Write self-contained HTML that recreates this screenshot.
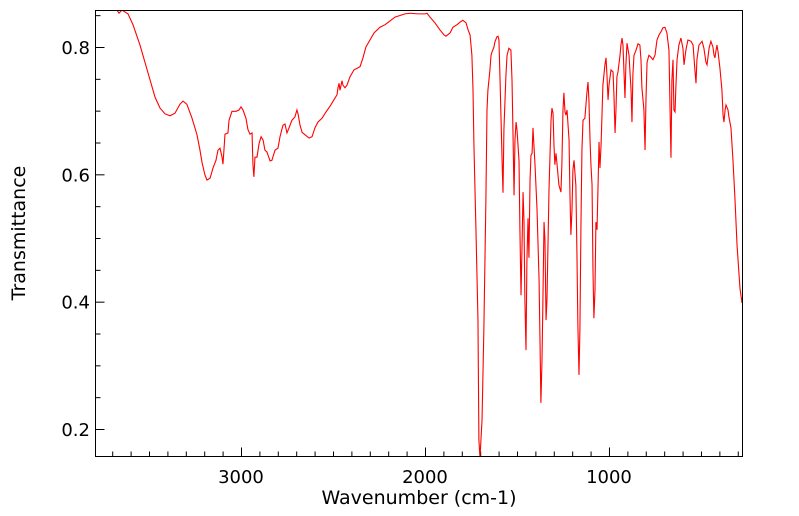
<!DOCTYPE html>
<html><head><meta charset="utf-8"><style>
body{margin:0;background:#fff}
svg{display:block;font-family:"DejaVu Sans","Liberation Sans",sans-serif}
</style></head><body>
<svg id="chart" width="799" height="516">
<rect x="0" y="0" width="799" height="516" fill="#fff"/>
<defs><clipPath id="pc"><rect x="95" y="10" width="647" height="446"/></clipPath></defs>
<g id="ticks"></g>
<path id="line" fill="none" stroke="#ff0000" stroke-width="1.1" clip-path="url(#pc)"/>
<rect x="95.5" y="10.5" width="647" height="446" fill="none" stroke="#000" stroke-width="1"/>
<text x="419" y="504" text-anchor="middle" font-size="19">Wavenumber (cm-1)</text>
<text transform="translate(25,233) rotate(-90)" text-anchor="middle" font-size="19">Transmittance</text>
</svg>
<script>
const wavenumbers=[3793,3674,3663,3647,3614,3587,3549,3522,3494,3467,3440,3413,3386,3359,3332,3315,3294,3266,3239,3223,3212,3196,3185,3168,3152,3136,3125,3114,3103,3098,3092,3087,3071,3065,3049,3027,3011,3000,2989,2973,2962,2951,2940,2935,2930,2924,2913,2902,2891,2880,2870,2859,2842,2832,2815,2799,2788,2772,2761,2750,2739,2723,2707,2696,2690,2679,2668,2652,2630,2614,2598,2582,2560,2538,2516,2495,2478,2473,2467,2462,2451,2446,2435,2424,2408,2386,2353,2337,2321,2299,2277,2245,2217,2190,2163,2109,2082,2038,2000,1989,1973,1946,1919,1897,1886,1864,1848,1826,1810,1794,1777,1766,1755,1745,1739,1734,1723,1712,1707,1701,1690,1680,1669,1663,1658,1647,1641,1636,1625,1620,1609,1603,1598,1592,1581,1576,1571,1560,1554,1544,1533,1527,1522,1516,1511,1505,1500,1489,1484,1478,1473,1467,1462,1457,1451,1446,1440,1435,1429,1424,1418,1413,1408,1402,1391,1380,1375,1370,1364,1359,1353,1348,1342,1337,1326,1315,1310,1304,1299,1294,1288,1283,1272,1261,1256,1250,1245,1239,1234,1228,1217,1212,1207,1201,1196,1190,1180,1174,1169,1163,1158,1152,1147,1141,1131,1120,1114,1109,1103,1098,1092,1087,1082,1076,1071,1065,1060,1054,1049,1043,1038,1033,1022,1016,1011,1005,1000,989,978,973,967,962,957,951,940,935,929,924,913,908,902,891,880,875,870,864,853,842,832,826,821,810,804,799,793,783,772,761,750,739,728,717,707,696,685,674,668,663,658,652,647,641,636,630,620,609,598,592,582,571,554,543,533,527,522,511,494,484,473,467,456,446,435,429,424,418,413,407,397,386,380,375,369,364,353,348,337,326,315,304,293,288,277];
const transmittance=[.858,.858,.853,.858,.852,.835,.803,.776,.748,.721,.704,.695,.692,.696,.710,.715,.710,.688,.662,.638,.619,.599,.591,.594,.610,.622,.638,.641,.627,.616,.641,.663,.665,.685,.699,.699,.701,.706,.701,.688,.670,.663,.665,.615,.596,.627,.627,.648,.659,.654,.638,.635,.621,.622,.638,.641,.659,.677,.679,.665,.673,.685,.690,.701,.695,.677,.666,.662,.657,.659,.673,.682,.688,.698,.707,.717,.725,.736,.743,.732,.747,.740,.736,.740,.753,.764,.769,.783,.800,.811,.822,.831,.835,.841,.847,.852,.853,.852,.852,.853,.847,.838,.827,.819,.817,.822,.831,.835,.839,.842,.838,.827,.819,.787,.732,.646,.513,.371,.183,.155,.214,.356,.560,.701,.732,.764,.787,.792,.800,.808,.816,.817,.811,.748,.622,.571,.670,.756,.787,.798,.795,.748,.670,.567,.654,.682,.670,.622,.513,.410,.481,.572,.528,.403,.324,.465,.531,.469,.591,.630,.633,.673,.646,.615,.544,.434,.340,.241,.308,.403,.525,.497,.371,.403,.575,.685,.704,.696,.646,.615,.633,.618,.583,.572,.615,.701,.728,.698,.693,.701,.654,.567,.505,.544,.607,.622,.583,.473,.363,.285,.356,.528,.638,.685,.688,.728,.745,.717,.654,.615,.583,.450,.374,.418,.525,.513,.575,.651,.610,.646,.693,.740,.772,.783,.756,.717,.740,.764,.761,.725,.665,.701,.753,.761,.787,.803,.814,.803,.720,.772,.806,.787,.732,.682,.756,.787,.795,.805,.803,.780,.736,.701,.638,.717,.776,.787,.784,.780,.787,.811,.819,.824,.830,.831,.822,.795,.701,.626,.748,.780,.701,.698,.740,.780,.803,.814,.798,.772,.795,.811,.809,.803,.764,.743,.780,.803,.809,.798,.776,.772,.798,.809,.800,.787,.783,.795,.803,.792,.767,.732,.693,.682,.701,.709,.701,.690,.673,.622,.560,.489,.442,.421,.398];
const xMajor=[3000,2000,1000];
const yMajor=[0.2,0.4,0.6,0.8];
const yLabels=["0.2","0.4","0.6","0.8"];
const X0=95,X1=742,Y0=10,Y1=456;
const WMAX=3793.5,WMIN=277,TMAX=0.8581,TMIN=0.1576;
function sx(w){return X0+(WMAX-w)/(WMAX-WMIN)*(X1-X0);}
function sy(t){return Y0+(TMAX-t)/(TMAX-TMIN)*(Y1-Y0);}
const NS='http://www.w3.org/2000/svg';
let d='';
for(let i=0;i<wavenumbers.length;i++){d+=(i?'L':'M')+sx(wavenumbers[i]).toFixed(2)+' '+sy(transmittance[i]).toFixed(2);}
document.getElementById('line').setAttribute('d',d);
const g=document.getElementById('ticks');
function ln(x1,y1,x2,y2,name){const l=document.createElementNS(NS,'line');l.setAttribute('x1',x1);l.setAttribute('y1',y1);l.setAttribute('x2',x2);l.setAttribute('y2',y2);l.setAttribute('stroke','#000');l.setAttribute('stroke-width','1');


g.appendChild(l);}
function tx(x,y,s,anchor,name){const t=document.createElementNS(NS,'text');t.setAttribute('x',x);t.setAttribute('y',y);t.setAttribute('text-anchor',anchor);t.setAttribute('font-size','18');t.textContent=s;


g.appendChild(t);}
for(let w=300;w<=3700;w+=100){const x=sx(w)+0.5;const major=w%1000===0;ln(x,Y1+0.5,x,Y1+0.5-(major?9:5),major?'x-major-tick':'x-minor-tick');}
xMajor.forEach(w=>tx(sx(w),483,String(w),'middle','x-tick-label'));
for(let k=4;k<=17;k++){const t=k*0.05;const y=sy(t)+0.5;const major=k%4===0;ln(X0+0.5,y,X0+0.5+(major?9:5),y,major?'y-major-tick':'y-minor-tick');}
yMajor.forEach((t,i)=>tx(90,sy(t)+7,yLabels[i],'end','y-tick-label'));
</script>
</body></html>
